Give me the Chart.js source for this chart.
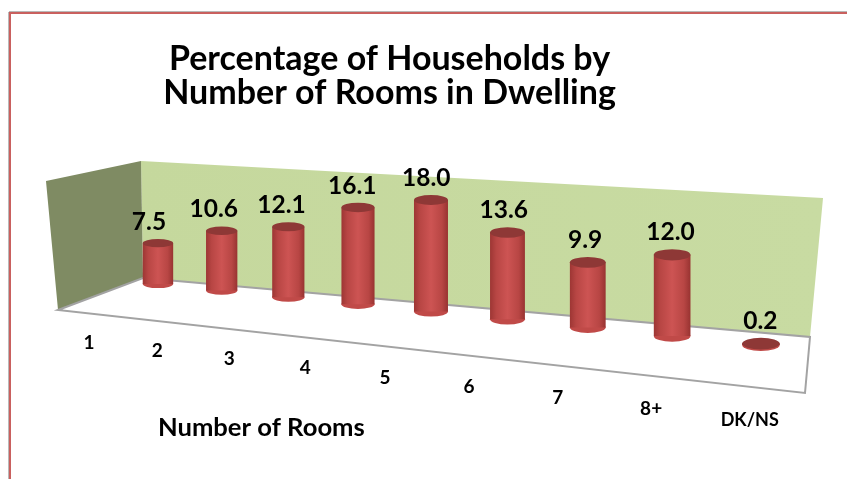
<!DOCTYPE html>
<html>
<head>
<meta charset="utf-8">
<style>html,body{margin:0;padding:0;background:#fff}canvas{display:block}</style>
<script src="https://cdn.jsdelivr.net/npm/chart.js@4"></script>
</head>
<body>
<canvas id="c" width="847" height="479"></canvas>
<script>
const categories = ['1','2','3','4','5','6','7','8+','DK/NS'];
const values = [7.5,10.6,12.1,16.1,18.0,13.6,9.9,12.0,0.2];
const titleLines = ['Percentage of Households by','Number of Rooms in Dwelling'];
const axisTitle = 'Number of Rooms';
const FONT = 'Lato';

// Perspective of the 3-D floor: category fraction u -> screen position
const projX = u => (525*u + 127.1) / (1 - 0.192*u);
const floorY = x => 268 + 0.1012*x;
const unitPx = u => 5.35 + 1.7*u;
const barW = u => 30 + 8*u;
const capR = u => 4 + 2*u;
const fracOf = (chart,i) => { const s = chart.scales.x; return (s.getPixelForValue(i) - s.left) / s.width; };

function poly(ctx, pts, fill, stroke, lw){
  ctx.beginPath();
  pts.forEach((p,i)=> i ? ctx.lineTo(p[0],p[1]) : ctx.moveTo(p[0],p[1]));
  ctx.closePath();
  if(fill){ctx.fillStyle=fill;ctx.fill();}
  if(stroke){ctx.strokeStyle=stroke;ctx.lineWidth=lw||1;ctx.stroke();}
}

const perspective = {
  id:'perspective',
  afterDatasetsUpdate(chart){
    const ys = chart.scales.y, meta = chart.getDatasetMeta(0), unit = ys.height/(ys.max-ys.min);
    meta.data.forEach((el,i)=>{
      const u = fracOf(chart,i), x = projX(u), b = floorY(x);
      const h = (ys.getPixelForValue(0)-ys.getPixelForValue(values[i]))*unitPx(u)/unit;
      const w = barW(u);
      el.x = x; el.base = b; el.y = b-h; el.width = w;
      const g = chart.ctx.createLinearGradient(x-w/2,0,x+w/2,0);
      g.addColorStop(0,'#9d3634'); g.addColorStop(0.18,'#b84644');
      g.addColorStop(0.5,'#cd5453'); g.addColorStop(0.82,'#b84644'); g.addColorStop(1,'#983331');
      el.options = Object.assign({}, el.options, {backgroundColor:g, borderWidth:0});
    });
  },
  beforeDatasetsDraw(chart){
    const c = chart.ctx; c.save();
    // frame
    c.fillStyle='#b9b9b9'; c.fillRect(8,12,1,467); c.fillRect(9,11,838,1);
    c.fillStyle='#c9605e'; c.fillRect(9,12,2,467); c.fillRect(9,12,838,2);
    // walls and floor
    const gw = c.createLinearGradient(141,0,823,0);
    gw.addColorStop(0,'#c5d89d'); gw.addColorStop(1,'#c8dba2');
    poly(c,[[141,161],[823,198],[810,337],[143,278]],gw);
    poly(c,[[46,181],[141,161],[143,278],[58,310]],'#7f8b63');
    poly(c,[[58,310],[143,278],[810,337],[805,393]],'#ffffff','#a3a3a3',2);
    c.restore();
  },
  beforeDatasetDraw(chart){
    const c = chart.ctx, meta = chart.getDatasetMeta(0); c.save();
    meta.data.forEach((el,i)=>{
      const u = fracOf(chart,i);
      c.beginPath(); c.ellipse(el.x,el.base,el.width/2,capR(u),0,0,Math.PI*2);
      c.fillStyle = '#c04a48'; c.fill();
    });
    c.restore();
  },
  afterDatasetDraw(chart){
    const c = chart.ctx, meta = chart.getDatasetMeta(0); c.save();
    meta.data.forEach((el,i)=>{
      const u = fracOf(chart,i);
      c.beginPath(); c.ellipse(el.x,el.y,el.width/2,capR(u),0,0,Math.PI*2);
      c.fillStyle = '#8e3836'; c.fill();
    });
    // value labels
    c.fillStyle='#000'; c.textAlign='center'; c.textBaseline='middle';
    c.font='bold 24.5px '+FONT;
    meta.data.forEach((el,i)=>{
      const u = fracOf(chart,i);
      c.fillText(values[i].toFixed(1), el.x-9.5+9.5*u, el.y-capR(u)-17);
    });
    // category labels along the front edge of the floor
    meta.data.forEach((el,i)=>{
      const u = fracOf(chart,i), x = el.x-71+35*u+30*u*u;
      const t = chart.scales.x.getLabelForValue(i);
      c.font = 'bold '+(t.length>2?18:19)+'px '+FONT;
      c.fillText(t, x, 332.7+0.1163*x);
    });
    c.restore();
  }
};

new Chart(document.getElementById('c'),{
  type:'bar',
  data:{labels:categories,datasets:[{data:values,clip:false,backgroundColor:'#c04a48',borderWidth:0}]},
  plugins:[perspective],
  options:{
    responsive:false,animation:false,
    layout:{padding:{left:158,right:226,top:0,bottom:36}},
    plugins:{
      legend:{display:false},tooltip:{enabled:false},
      title:{display:true,text:titleLines,color:'#000',
        font:{family:FONT,size:34,weight:'bold',lineHeight:1.0},padding:{top:42,bottom:10}}
    },
    scales:{
      y:{display:false,min:0,max:20},
      x:{grid:{display:false},border:{display:false},ticks:{display:false},
        title:{display:true,text:axisTitle,align:'start',color:'#000',padding:0,
          font:{family:FONT,size:25.6,weight:'bold'}}}
    }
  }
});
</script>
</body>
</html>
